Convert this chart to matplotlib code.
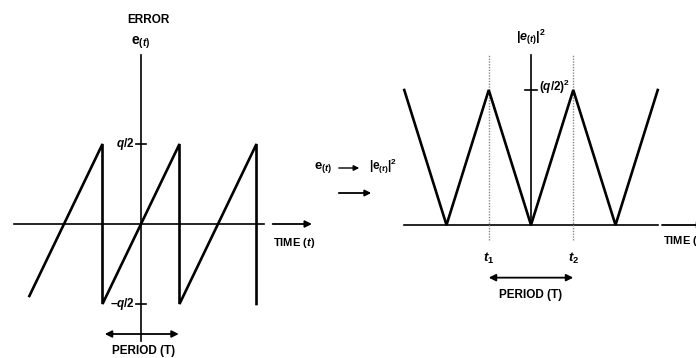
import numpy as np
import matplotlib.pyplot as plt
from matplotlib.patches import FancyArrowPatch

plt.rcParams['font.family'] = ['Liberation Sans Narrow', 'Liberation Sans', 'DejaVu Sans']
plt.rcParams['font.weight'] = 'bold'
plt.rcParams['mathtext.fontset'] = 'custom'
plt.rcParams['mathtext.rm'] = 'Liberation Sans:bold'
plt.rcParams['mathtext.it'] = 'Liberation Sans:italic:bold'
plt.rcParams['mathtext.bf'] = 'Liberation Sans:bold'

# Quantization error e(t), time in periods T, error in units of q/2
err_t = [-1.45, -0.5, -0.5, 0.5, 0.5, 1.5, 1.5]
err_v = [-0.9, 1.0, -1.0, 1.0, -1.0, 1.0, -1.0]

# Squared error |e(t)|^2, in units of (q/2)^2
sq_t = [-1.5, -1.0, -0.5, 0.0, 0.5, 1.0, 1.5]
sq_v = [1.0, 0.0, 1.0, 0.0, 1.0, 0.0, 1.0]

# t1 and t2 markers
marks_t = [-0.5, 0.5]
marks_lbl = ['$t_1$', '$t_2$']

W, H = 696, 358
fig = plt.figure(figsize=(W / 100, H / 100), dpi=100)

SIG_LW = 1.9
AX_LW = 1.2
arrow_kw = dict(arrowstyle='-|>', color='black', lw=1.3, mutation_scale=10,
                shrinkA=0, shrinkB=0)
both_kw = dict(arrowstyle='<|-|>', color='black', lw=1.3, mutation_scale=10,
               shrinkA=0, shrinkB=0)


def make_axes(x0, x1, ox, oy, sx, sy):
    # axes spanning pixel columns x0..x1, origin at pixel (ox, oy)
    ax = fig.add_axes([x0 / W, 0, (x1 - x0) / W, 1])
    ax.set_xlim((x0 - ox) / sx, (x1 - ox) / sx)
    ax.set_ylim((oy - H) / sy, oy / sy)
    ax.axis('off')
    return ax


# ---- left: sawtooth error ----
ax0 = make_axes(0, 330, 141, 224, 77, 80)
ax0.plot([0, 0], [-1.46, 2.11], color='black', lw=AX_LW)
ax0.plot([-1.65, 1.60], [0, 0], color='black', lw=AX_LW)
ax0.annotate('', xy=(2.22, 0), xytext=(1.71, 0), arrowprops=arrow_kw)
ax0.plot(err_t, err_v, color='black', lw=SIG_LW, solid_joinstyle='miter')
for v, lbl in [(1, '$q/2$'), (-1, '$\u2013q/2$')]:
    ax0.plot([-0.065, 0.065], [v, v], color='black', lw=AX_LW)
    ax0.text(-0.08, v, lbl, ha='right', va='center', fontsize=8.5)
ax0.text(0.1, 2.55, 'ERROR', ha='center', va='center', fontsize=8.5)
ax0.text(0.0, 2.27, r'$\mathrm{e}_{(t)}$', ha='center', va='center', fontsize=10)
ax0.text(1.71, -0.24, r'TIME ($t$)', ha='left', va='center', fontsize=8)
ax0.annotate('', xy=(-0.47, -1.375), xytext=(0.49, -1.375), arrowprops=both_kw)
ax0.text(0.03, -1.59, 'PERIOD (T)', ha='center', va='center', fontsize=8.5)

# ---- right: squared error ----
ax1 = make_axes(330, 696, 531, 225, 84.5, 135)
ax1.plot([0, 0], [0, 1.26], color='black', lw=AX_LW)
ax1.plot([-1.5, 1.5], [0, 0], color='black', lw=AX_LW)
ax1.annotate('', xy=(2.05, 0), xytext=(1.55, 0), arrowprops=arrow_kw,
             annotation_clip=False)
for t, lbl in zip(marks_t, marks_lbl):
    ax1.plot([t, t], [-0.11, 1.26], color='#888888', lw=1.0, ls=(0, (1, 1)))
    ax1.text(t, -0.245, lbl, ha='center', va='center', fontsize=9.5)
ax1.plot(sq_t, sq_v, color='black', lw=SIG_LW, solid_joinstyle='miter')
ax1.plot([-0.07, 0.07], [1.0, 1.0], color='black', lw=AX_LW)
ax1.text(0.1, 1.02, '$(q/2)^2$', ha='left', va='center', fontsize=8.5)
ax1.text(0.0, 1.39, r'$|\mathit{e}_{(t)}|^2$', ha='center', va='center', fontsize=9)
ax1.text(1.56, -0.12, r'TIME ($t$)', ha='left', va='center', fontsize=8,
         clip_on=False)
ax1.annotate('', xy=(marks_t[0], -0.39), xytext=(marks_t[1], -0.39), arrowprops=both_kw)
ax1.text(0.0, -0.52, 'PERIOD (T)', ha='center', va='center', fontsize=8.5)

# ---- middle: transform label ----
fig.text(323 / W, 1 - 168 / H, r'$\mathrm{e}_{(t)}$', ha='center', va='center', fontsize=9.5)
fig.text(369 / W, 1 - 166 / H, r'$|\mathrm{e}_{(t)}|^2$', ha='left', va='center', fontsize=8.5)
fig.add_artist(FancyArrowPatch(
    (336 / W, 1 - 168 / H), (362 / W, 1 - 168 / H), transform=fig.transFigure,
    arrowstyle='-|>', color='black', lw=1.0, mutation_scale=8))
fig.add_artist(FancyArrowPatch(
    (336 / W, 1 - 193 / H), (374 / W, 1 - 193 / H), transform=fig.transFigure,
    arrowstyle='-|>', color='black', lw=1.3, mutation_scale=9))

fig.savefig('out.png', dpi=100, facecolor='white')
